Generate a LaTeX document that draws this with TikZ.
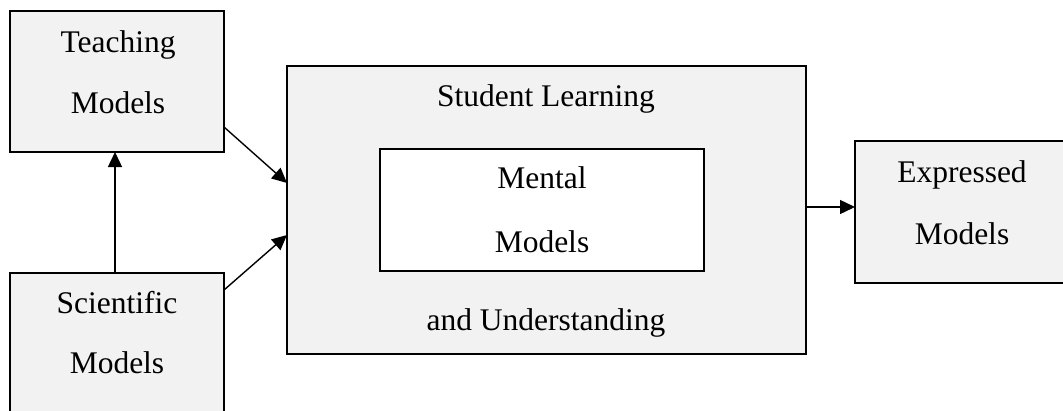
\documentclass[tikz,border=0pt]{standalone}
\usepackage{fontspec}
\setmainfont{Liberation Serif}
\usetikzlibrary{arrows.meta,calc}
\definecolor{boxfill}{HTML}{F2F2F2}
\tikzset{
  box/.style={draw=black, line width=1.6pt, fill=boxfill, inner sep=0pt, outer sep=0pt, anchor=north west},
  innerbox/.style={box, fill=white},
  lbl/.style={anchor=base, inner sep=0pt, font=\fontsize{31.5}{36}\selectfont},
  arr/.style={line width=1.4pt, -{Triangle[length=15pt,width=14pt]}}
}
\begin{document}
\begin{tikzpicture}[x=1pt,y=-1pt]
\clip (0,0) rectangle (1063,410);
\fill[white] (0,0) rectangle (1063,410);
% boxes
\node[box, minimum width=214pt, minimum height=141pt] (teach) at (10,11) {};
\node[box, minimum width=214pt, minimum height=150pt] (sci) at (10,273) {};
\node[box, minimum width=519pt, minimum height=288pt] (outer) at (287,66) {};
\node[innerbox, minimum width=324pt, minimum height=122pt] (mental) at (380,149) {};
\node[box, minimum width=220pt, minimum height=142pt] (expr) at (855,141) {};
% texts
\node[lbl] (t1) at (118,52) {Teaching};
\node[lbl] (t2) at (118,113) {Models};
\node[lbl] (s1) at (117,313) {Scientific};
\node[lbl] (s2) at (117,373) {Models};
\node[lbl] (o1) at (546,106) {Student Learning};
\node[lbl] (o2) at (546,330) {and Understanding};
\node[lbl] (m1) at (542,188) {Mental};
\node[lbl] (m2) at (542,252) {Models};
\node[lbl] (e1) at (962,182) {Expressed};
\node[lbl] (e2) at (962,244) {Models};
% connectors
\draw[arr] (sci.north -| 115,0) -- (teach.south -| 115,0);
\draw[arr] (teach.east |- 0,127) -- (outer.west |- 0,183);
\draw[arr] (sci.east |- 0,290) -- (outer.west |- 0,235);
\draw[arr] (outer.east |- 0,207) -- (expr.west |- 0,207);
\end{tikzpicture}
\end{document}
